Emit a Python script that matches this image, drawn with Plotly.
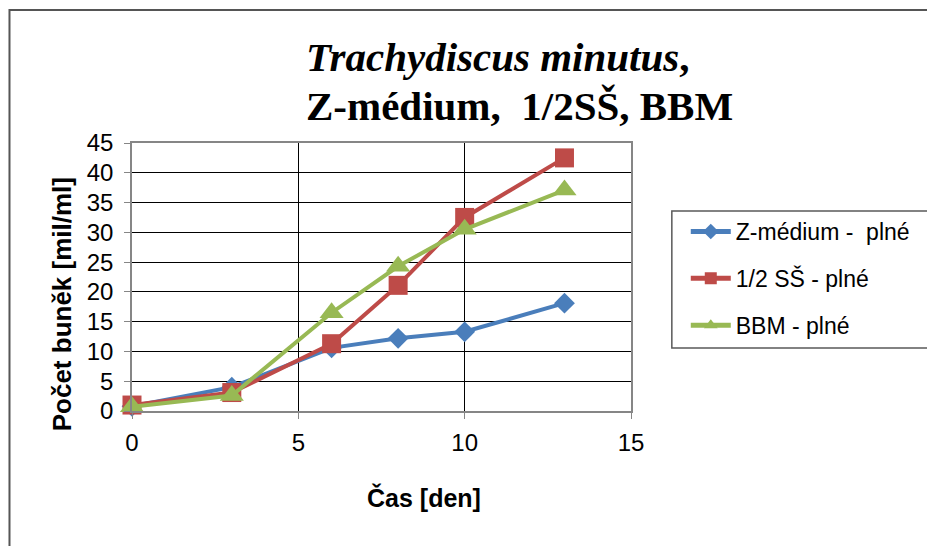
import plotly.graph_objects as go

days = [0, 3, 6, 8, 10, 13]
z_medium = [0.8, 4.0, 10.6, 12.2, 13.3, 18.1]
half_ss = [1.0, 3.1, 11.3, 21.1, 32.5, 42.5]
bbm = [0.7, 2.6, 16.5, 24.3, 30.5, 37.1]

names = ["Z-médium -  plné", "1/2 SŠ - plné", "BBM - plné"]
colors = ["#4A7EBB", "#BE4B48", "#98B954"]
symbols = ["diamond", "square", "triangle-up"]
sizes = [16, 19, 21]
series = [z_medium, half_ss, bbm]

W, H = 927, 546
ML, MR, MT, MB = 132, 294, 143, 135
PW, PH = W - ML - MR, H - MT - MB


def px(x):
    return (x - ML) / PW


def py(y):
    return (H - MB - y) / PH


fig = go.Figure()
for i, (nm, ys) in enumerate(zip(names, series)):
    fig.add_trace(go.Scatter(
        x=days, y=ys, name=nm, mode="lines+markers",
        line=dict(color=colors[i], width=4),
        marker=dict(symbol=symbols[i], size=sizes[i], color=colors[i]),
        cliponaxis=False, legendgroup=f"g{i}",
    ))

axis_common = dict(
    showgrid=True, gridcolor="#000000", gridwidth=1.3,
    showline=True, linecolor="#868686", linewidth=1.5, mirror=True,
    ticks="outside", ticklen=6, tickcolor="#868686", tickwidth=1.3,
    zeroline=False,
    tickfont=dict(family="Liberation Sans, Arial", size=24, color="#000000"),
)

fig.update_xaxes(range=[0, 15], dtick=5, ticklabelstandoff=3, **axis_common)
fig.update_yaxes(range=[0, 45], dtick=5, ticklabelstandoff=6, **axis_common)

annotations = [
    dict(text="<b><i>Trachydiscus minutus</i>,</b>", x=px(305), y=py(57),
         xanchor="left", yanchor="middle",
         font=dict(family="Liberation Serif, Times New Roman", size=41, color="#000000")),
    dict(text="<b>Z-médium,  1/2SŠ, BBM</b>", x=px(305), y=py(106),
         xanchor="left", yanchor="middle",
         font=dict(family="Liberation Serif, Times New Roman", size=41, color="#000000")),
    dict(text="<b>Čas [den]</b>", x=px(425), y=py(497),
         xanchor="center", yanchor="middle",
         font=dict(family="Liberation Sans, Arial", size=25, color="#000000")),
    dict(text="<b>Počet buněk [mil/ml]</b>", x=px(62), y=py(304), textangle=-90,
         xanchor="center", yanchor="middle",
         font=dict(family="Liberation Sans, Arial", size=26, color="#000000")),
]
for a in annotations:
    a.update(xref="paper", yref="paper", showarrow=False)

shapes = [
    dict(type="rect", xref="paper", yref="paper",
         x0=px(9), x1=px(945), y0=py(565), y1=py(10),
         line=dict(color="#555555", width=2), layer="below"),
    dict(type="rect", xref="paper", yref="paper",
         x0=px(674), x1=px(945), y0=py(348), y1=py(211),
         line=dict(color="#595959", width=1.5), layer="below"),
]

fig.update_layout(
    width=W, height=H,
    margin=dict(l=ML, r=MR, t=MT, b=MB, pad=0),
    paper_bgcolor="#FFFFFF", plot_bgcolor="#FFFFFF",
    showlegend=True,
    legend=dict(x=px(688), y=py(210), xanchor="left", yanchor="top",
                font=dict(family="Liberation Sans, Arial", size=23, color="#000000"),
                bgcolor="rgba(0,0,0,0)", borderwidth=0, tracegroupgap=14,
                itemwidth=40, itemsizing="constant"),
    annotations=annotations,
    shapes=shapes,
)

fig.write_html("out.html")
